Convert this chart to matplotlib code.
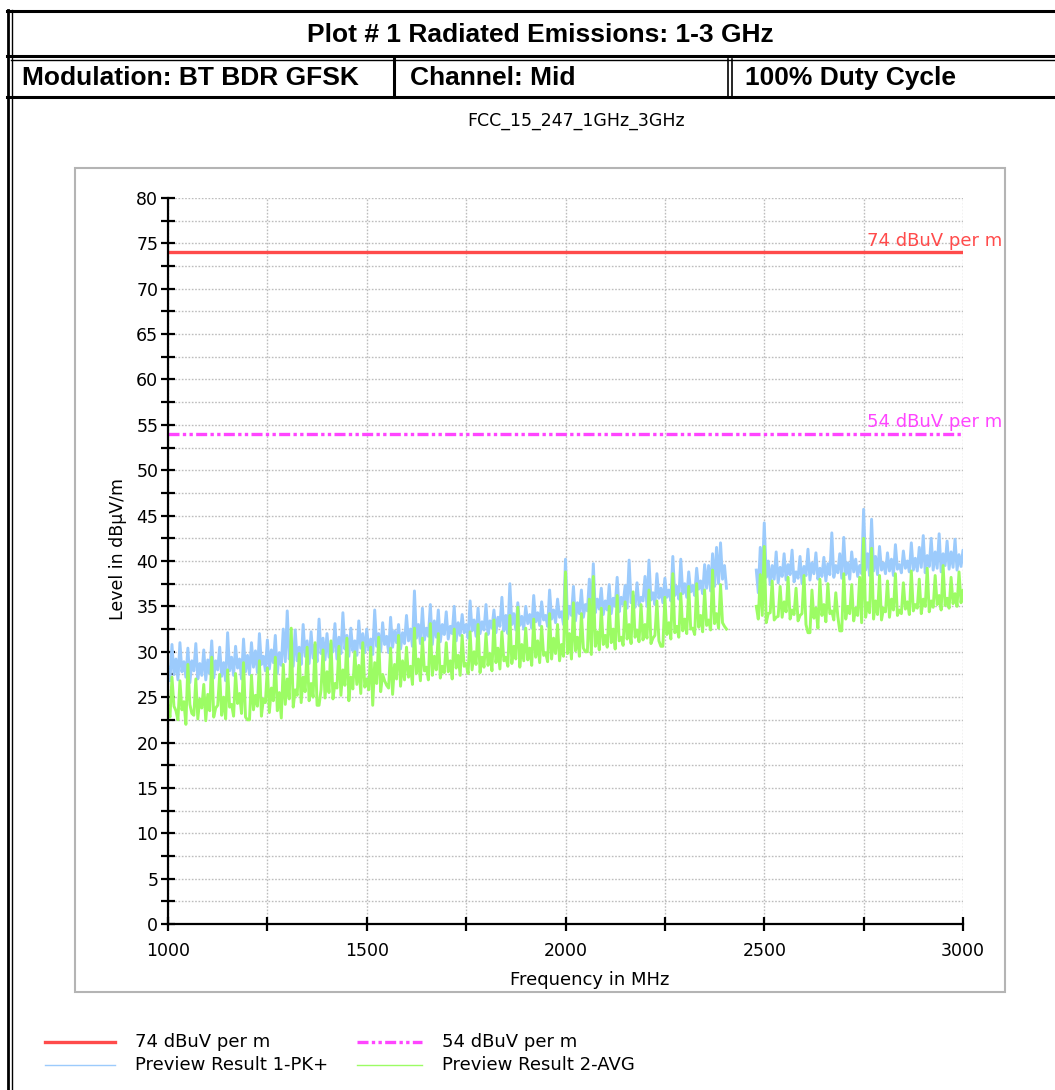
"""Radiated emissions 1-3 GHz plot (BT BDR GFSK, mid channel)."""
import numpy as np
import matplotlib
matplotlib.use("Agg")
import matplotlib.pyplot as plt
from matplotlib.lines import Line2D
from matplotlib.patches import Rectangle
from matplotlib import font_manager

# ---- data -----------------------------------------------------------------
LIMIT_PK = 74.0
LIMIT_AVG = 54.0
LIMIT_PK_LABEL = "74 dBuV per m"
LIMIT_AVG_LABEL = "54 dBuV per m"
PK_LABEL = "Preview Result 1-PK+"
AVG_LABEL = "Preview Result 2-AVG"

# sweep 1: 1000..2400 MHz, sweep 2: 2480..3000 MHz, 10 MHz bins.
# For each bin the trace reading (*_A / *_B) and the low point a few MHz
# later (*_LOW).
FREQ_A = np.arange(1000, 2401, 10)
FREQ_B = np.arange(2480, 3001, 10)

PK_A = [
    28.3, 30.8, 29.2, 31.0, 28.9, 30.4, 29.0, 30.9, 28.7, 30.2,
    29.1, 31.2, 29.0, 30.5, 28.8, 32.1, 29.4, 30.6, 29.2, 31.4,
    29.6, 31.0, 30.1, 32.0, 29.5, 31.3, 30.2, 31.8, 29.9, 32.5,
    34.5, 31.0, 32.4, 30.5, 33.0, 31.2, 32.2, 30.8, 33.6, 31.5,
    32.0, 30.9, 33.1, 31.6, 34.3, 31.8, 32.6, 31.2, 33.4, 32.0,
    32.5, 31.4, 34.6, 32.0, 33.2, 31.7, 33.8, 32.3, 33.0, 32.1,
    34.0, 32.5, 36.7, 33.0, 34.8, 32.6, 35.2, 33.4, 34.6, 33.0,
    34.4, 32.8, 35.0, 33.2, 34.1, 33.0, 35.6, 33.5, 34.8, 33.3,
    35.2, 33.4, 34.6, 33.8, 36.0, 34.0, 37.5, 34.2, 35.4, 33.9,
    35.0, 34.1, 36.2, 34.3, 35.5, 34.0, 36.8, 34.6, 35.8, 34.4,
    40.2, 35.0, 37.2, 35.4, 36.8, 35.2, 38.0, 39.7, 35.8, 37.0,
    35.6, 37.4, 35.9, 38.2, 36.0, 37.3, 40.1, 36.2, 37.6, 36.0,
    38.3, 40.1, 36.5, 38.6, 37.0, 38.1, 36.8, 40.5, 37.2, 40.2,
    37.5, 38.8, 37.3, 39.2, 37.8, 39.6, 39.5, 40.8, 41.5, 42.0,
    39.5,
]
PK_A_LOW = [
    26.8, 27.5, 26.9, 27.8, 27.2, 26.6, 27.9, 27.0, 27.4, 26.9,
    27.6, 27.1, 28.0, 27.3, 26.8, 27.9, 27.4, 28.2, 27.0, 27.8,
    27.5, 28.3, 27.7, 28.6, 27.9, 28.1, 28.8, 27.6, 28.5, 28.9,
    29.2, 28.4, 29.0, 28.6, 29.5, 28.7, 29.3, 28.9, 29.8, 29.1,
    29.4, 30.0, 29.2, 29.8, 30.3, 29.5, 30.1, 29.6, 30.4, 29.9,
    30.2, 29.7, 30.6, 30.0, 30.8, 29.9, 30.5, 31.0, 30.3, 30.9,
    31.2, 30.6, 31.5, 30.9, 31.3, 31.7, 30.8, 31.6, 31.1, 31.9,
    31.4, 32.0, 31.2, 31.8, 32.1, 31.5, 32.3, 31.7, 32.0, 32.4,
    31.9, 32.6, 32.1, 32.8, 32.3, 32.0, 33.0, 32.4, 32.9, 32.5,
    33.1, 32.6, 33.3, 32.9, 33.5, 32.8, 33.6, 33.2, 33.8, 33.0,
    33.6, 34.0, 33.4, 34.2, 33.8, 34.5, 33.9, 34.3, 34.7, 34.1,
    34.6, 34.2, 35.0, 34.4, 35.2, 34.8, 35.4, 34.9, 35.1, 35.6,
    35.0, 35.7, 35.2, 35.9, 35.4, 36.0, 35.6, 36.2, 35.8, 36.4,
    36.0, 36.6, 36.2, 36.9, 36.4, 37.0, 36.7, 37.2, 37.5, 38.0,
    37.0,
]
PK_B = [
    39.0, 41.5, 44.2, 40.0, 39.5, 41.0, 39.3, 40.8, 39.6, 41.2,
    38.8, 40.5, 39.4, 41.3, 39.8, 40.9, 39.2, 40.4, 39.7, 43.1,
    39.5, 40.8, 42.6, 39.8, 41.0, 40.2, 39.5, 45.7, 40.8, 44.6,
    40.5, 41.6, 39.8, 40.9, 40.2, 41.8, 39.6, 41.1, 40.0, 42.0,
    40.3, 41.5, 42.8, 40.6, 42.5, 41.0, 43.0, 40.8, 42.2, 41.0,
    42.4, 40.7, 41.2,
]
PK_B_LOW = [
    36.5, 37.8, 38.2, 37.4, 38.0, 37.6, 38.3, 37.9, 38.5, 37.7,
    38.1, 37.5, 38.4, 37.9, 38.6, 38.0, 38.3, 37.8, 38.5, 38.2,
    38.7, 38.1, 38.5, 38.0, 38.8, 38.3, 38.6, 39.0, 38.4, 38.9,
    38.5, 39.0, 38.6, 38.9, 38.4, 39.1, 38.7, 39.2, 38.8, 39.0,
    38.9, 39.3, 38.7, 39.4, 39.0, 39.2, 38.8, 39.5, 39.1, 39.3,
    39.0, 39.4, 39.1,
]
AVG_A = [
    24.0, 27.2, 23.5, 26.8, 24.5, 28.6, 23.2, 27.0, 24.8, 26.4,
    25.3, 29.4, 23.8, 27.5, 25.0, 28.0, 24.2, 27.6, 25.4, 28.8,
    22.5, 27.4, 25.2, 29.0, 24.8, 28.2, 26.0, 29.4, 25.5, 28.6,
    27.0, 32.6, 25.8, 29.8, 27.2, 30.5, 26.5, 31.0, 24.1, 30.2,
    27.8, 31.2, 26.5, 30.6, 28.0, 31.5, 27.2, 30.0, 28.5, 31.0,
    27.0, 30.5, 28.8, 31.6, 27.5, 26.3, 30.4, 28.6, 31.8, 29.0,
    30.5, 28.4, 32.6, 29.2, 31.5, 28.3, 33.1, 29.5, 32.0, 28.4,
    31.0, 29.0, 32.5, 29.6, 31.8, 28.7, 32.2, 30.0, 33.0, 29.4,
    32.0, 29.8, 33.5, 30.4, 32.2, 29.4, 34.0, 30.6, 34.9, 30.8,
    32.6, 30.4, 33.6, 31.2, 32.8, 29.9, 34.2, 31.5, 33.0, 30.8,
    38.8, 32.0, 35.4, 31.6, 34.2, 30.0, 35.8, 38.3, 32.2, 34.8,
    31.8, 35.0, 32.5, 36.2, 31.6, 35.5, 33.0, 36.6, 32.4, 35.2,
    33.0, 36.8, 31.5, 35.6, 30.6, 36.0, 33.2, 38.6, 32.8, 36.4,
    33.6, 37.2, 32.6, 37.5, 34.0, 36.8, 33.5, 39.0, 34.2, 37.4,
    32.8,
]
AVG_A_LOW = [
    22.8, 24.0, 22.5, 23.6, 22.0, 24.2, 23.0, 22.6, 23.8, 22.4,
    23.5, 22.8, 24.1, 23.0, 22.6, 23.9, 22.9, 24.3, 23.2, 22.8,
    22.5, 23.6, 24.0, 22.9, 24.4, 23.3, 24.6, 23.5, 22.7, 24.2,
    24.8, 23.9, 25.2, 24.4, 25.6, 24.6, 25.0, 24.1, 25.8, 24.9,
    25.5, 24.8, 26.0, 25.2, 26.3, 24.6, 25.9, 26.4, 25.4, 26.1,
    25.8, 24.1, 26.5, 25.6, 26.8, 26.0, 25.3, 27.0, 26.2, 26.9,
    27.2, 26.4, 27.6, 26.8, 27.9, 26.9, 27.4, 28.0, 27.1, 27.7,
    27.8, 27.0, 28.2, 27.4, 28.4, 27.6, 28.0, 28.6, 27.7, 28.3,
    28.5, 27.9, 28.8, 28.1, 29.0, 28.4, 28.7, 29.2, 28.3, 29.0,
    29.1, 28.5, 29.4, 28.8, 29.6, 28.9, 29.2, 29.8, 29.0, 29.5,
    29.8, 29.2, 30.1, 29.5, 30.4, 30.0, 29.7, 30.6, 30.2, 30.8,
    30.5, 31.0, 30.3, 31.2, 30.7, 31.4, 30.9, 31.6, 31.1, 31.3,
    31.5, 30.9, 31.8, 31.2, 30.6, 31.9, 31.4, 32.1, 31.6, 32.3,
    32.0, 32.5, 31.9, 32.7, 32.2, 32.9, 32.4, 33.1, 32.6, 33.2,
    32.5,
]
AVG_B = [
    35.0, 38.5, 41.6, 34.2, 37.8, 33.8, 37.2, 35.5, 38.2, 34.6,
    37.0, 34.0, 38.4, 32.1, 36.8, 34.8, 38.0, 35.2, 37.5, 34.5,
    36.5, 32.3, 38.6, 35.0, 37.4, 34.8, 38.2, 42.5, 35.4, 41.4,
    35.6, 38.4, 34.8, 37.8, 35.8, 38.6, 34.6, 37.6, 35.5, 38.9,
    35.2, 38.0, 35.8, 39.2, 35.6, 38.4, 36.2, 39.5, 35.9, 38.2,
    36.4, 38.8, 36.8,
]
AVG_B_LOW = [
    33.6, 34.0, 33.2, 34.3, 33.5, 33.9, 33.8, 34.4, 33.6, 34.1,
    33.4, 34.2, 33.0, 32.1, 33.7, 32.6, 34.0, 33.3, 34.2, 33.5,
    33.9, 32.3, 33.6, 34.2, 33.4, 34.0, 33.2, 33.8, 34.3, 33.6,
    34.1, 33.5, 34.4, 33.8, 34.6, 34.0, 34.2, 34.7, 34.1, 34.5,
    34.8, 34.2, 35.0, 34.4, 34.9, 35.2, 34.6, 35.1, 34.8, 35.3,
    35.0, 35.4, 35.2,
]

RED = "#ff4b4b"
MAGENTA = "#ff45ff"
BLUE = "#9ccbfc"
GREEN = "#9cfc64"
GRIDC = "#bdbdbd"

W, H = 1055, 1090


def fx(px):
    return px / W


def fy(py):
    return 1 - py / H


def pick_font(cands):
    names = {f.name for f in font_manager.fontManager.ttflist}
    for c in cands:
        if c in names:
            return c
    return "DejaVu Sans"


def interleave(freq, hi, lo):
    # reading at f, low point at f + 5 MHz
    x = np.column_stack([freq, freq + 5]).ravel()
    y = np.column_stack([hi, lo]).ravel()
    return x, y


def main():
    narrow = pick_font(["Liberation Sans Narrow", "DejaVu Sans Condensed", "Liberation Sans"])
    plt.rcParams["font.family"] = "DejaVu Sans"
    head_size = 23 if "Narrow" in narrow or "Condensed" in narrow else 19

    fig = plt.figure(figsize=(W / 100, H / 100), dpi=100)

    # ---- header table ------------------------------------------------------
    def hline(py, x0, x1, lw):
        fig.add_artist(Line2D([fx(x0), fx(x1)], [fy(py), fy(py)], color="black",
                              lw=lw, transform=fig.transFigure))

    def vline(px, y0, y1, lw):
        fig.add_artist(Line2D([fx(px), fx(px)], [fy(y0), fy(y1)], color="black",
                              lw=lw, transform=fig.transFigure))

    hline(11, 7, W, 2.2)
    hline(56, 7, W, 2.2)
    hline(59.5, 11, W, 1.0)
    hline(97, 7, W, 2.2)
    vline(8, 10, H, 2.0)
    vline(12, 10, H, 1.0)
    vline(393.5, 59, 97, 2.2)
    vline(728, 59, 97, 1.2)
    vline(732, 59, 97, 1.2)

    fig.text(fx(540), fy(35), "Plot # 1 Radiated Emissions: 1-3 GHz", family=narrow,
             weight="bold", fontsize=head_size, ha="center", va="center")
    fig.text(fx(22), fy(78), "Modulation: BT BDR GFSK", family=narrow,
             weight="bold", fontsize=head_size, ha="left", va="center")
    fig.text(fx(410), fy(78), "Channel: Mid", family=narrow,
             weight="bold", fontsize=head_size, ha="left", va="center")
    fig.text(fx(745), fy(78), "100% Duty Cycle", family=narrow,
             weight="bold", fontsize=head_size, ha="left", va="center")

    fig.text(fx(576), fy(121), "FCC_15_247_1GHz_3GHz", fontsize=12.5,
             ha="center", va="center")

    # grey panel around the plot
    fig.add_artist(Rectangle((fx(75), fy(992)), fx(1005) - fx(75), fy(168) - fy(992),
                             transform=fig.transFigure, fill=False,
                             edgecolor="#b4b4b4", lw=1.5))

    # ---- plot --------------------------------------------------------------
    ax = fig.add_axes([fx(168), fy(924), fx(963) - fx(168), fy(198) - fy(924)])
    ax.set_xlim(1000, 3000)
    ax.set_ylim(0, 80)

    pk_line = None
    av_line = None
    for fr, pk, pkl, av, avl in [(FREQ_A, PK_A, PK_A_LOW, AVG_A, AVG_A_LOW),
                                 (FREQ_B, PK_B, PK_B_LOW, AVG_B, AVG_B_LOW)]:
        xs, ys = interleave(fr, pk, pkl)
        pk_line, = ax.plot(xs, ys, color=BLUE, lw=2.1, zorder=3)
        xs, ys = interleave(fr, av, avl)
        av_line, = ax.plot(xs, ys, color=GREEN, lw=2.1, zorder=4)

    lim_pk = ax.axhline(LIMIT_PK, color=RED, lw=2.4, zorder=5)
    lim_av = ax.axhline(LIMIT_AVG, color=MAGENTA, lw=2.4, zorder=5,
                        dashes=(3.3, 1, 1, 1, 1, 1))
    xr = (1002 - 168) / 795
    ax.text(xr, LIMIT_PK + 0.3, LIMIT_PK_LABEL, transform=ax.get_yaxis_transform(),
            color=RED, fontsize=13, ha="right", va="bottom", clip_on=False)
    ax.text(xr, LIMIT_AVG + 0.3, LIMIT_AVG_LABEL, transform=ax.get_yaxis_transform(),
            color=MAGENTA, fontsize=13, ha="right", va="bottom", clip_on=False)

    ax.set_xticks(np.arange(1000, 3001, 500))
    ax.set_xticks(np.arange(1000, 3001, 250), minor=True)
    ax.set_yticks(np.arange(0, 81, 5))
    ax.set_yticks(np.arange(0, 81, 2.5), minor=True)
    ax.tick_params(which="both", direction="inout", length=10, width=1.6,
                   labelsize=12.5, top=False, right=False)
    ax.tick_params(axis="x", which="major", pad=8)
    ax.tick_params(axis="y", which="major", pad=2)
    ax.grid(which="both", color=GRIDC, ls=(0, (1.2, 1.2)), lw=1.0, zorder=0)
    for s in ["top", "right"]:
        ax.spines[s].set_visible(False)
    for s in ["left", "bottom"]:
        ax.spines[s].set_linewidth(1.6)
        ax.spines[s].set_zorder(6)

    fig.text(fx(118), fy(549), "Level in dB\u00b5V/m", rotation=90, fontsize=12.5,
             ha="center", va="center")
    fig.text(fx(590), fy(980), "Frequency in MHz", fontsize=13, ha="center", va="center")

    # ---- legend (fixed positions, as in the source report) ----------------
    def leg_item(x0, x1, py, src, text, lw):
        ln = Line2D([fx(x0), fx(x1)], [fy(py), fy(py)], transform=fig.transFigure,
                    color=src.get_color(), lw=lw)
        if src.get_linestyle() not in ("-", "solid"):
            ln.set_dashes((3.3, 1, 1, 1, 1, 1))
        fig.add_artist(ln)
        fig.text(fx(x1 + 20), fy(py), text, fontsize=13, ha="left", va="center")

    leg_item(45, 115, 1042, lim_pk, LIMIT_PK_LABEL, 2.4)
    leg_item(357, 422, 1042, lim_av, LIMIT_AVG_LABEL, 2.4)
    leg_item(45, 115, 1065, pk_line, PK_LABEL, 1.0)
    leg_item(357, 422, 1065, av_line, AVG_LABEL, 1.0)

    fig.savefig("out.png", dpi=100)


if __name__ == "__main__":
    main()
